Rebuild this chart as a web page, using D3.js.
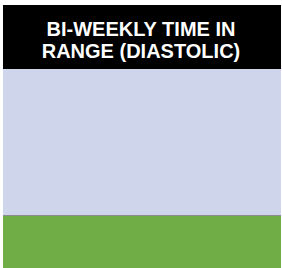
<!DOCTYPE html>
<html>
<head>
<meta charset="utf-8">
<script src="https://cdn.jsdelivr.net/npm/d3@7"></script>
<style>
  html, body { margin: 0; padding: 0; background: #fff; }
  svg { display: block; }
</style>
</head>
<body>
<div id="chart"></div>
<script>
// Chart values
const titleLines = ['BI-WEEKLY TIME IN', 'RANGE (DIASTOLIC)'];
const categories = ['Diastolic'];
const seriesNames = ['In Range', 'Out of Range'];
const inRange = [26.6];
const outOfRange = [73.4];
const seriesColors = ['#70ad47', '#cfd5ea'];

const width = 282, height = 268;
const margin = { left: 3, right: 1, header: 64, top: 5 };

const svg = d3.select('#chart')
    .append('svg')
    .attr('width', width)
    .attr('height', height);

// Header block
svg.append('rect')
    .attr('x', margin.left)
    .attr('y', margin.top)
    .attr('width', width - margin.left - margin.right)
    .attr('height', margin.header)
    .attr('fill', '#000');

svg.append('g')
    .selectAll('text')
    .data(titleLines)
    .enter()
    .append('text')
    .attr('x', 141)
    .attr('y', (d, i) => 36 + i * 22)
    .attr('text-anchor', 'middle')
    .attr('fill', '#fff')
    .style('font-family', '"Liberation Sans", Arial, sans-serif')
    .style('font-weight', 'bold')
    .style('font-size', '20px')
    .text(d => d);

// Stacked bar
const plotTop = margin.top + margin.header;
const x = d3.scaleBand()
    .domain(categories)
    .range([margin.left, width - margin.right])
    .padding(0);

const y = d3.scaleLinear()
    .domain([0, 100])
    .range([height, plotTop]);

const rows = categories.map((c, i) => ({ cat: c, 'In Range': inRange[i], 'Out of Range': outOfRange[i] }));
const stacked = d3.stack().keys(seriesNames)(rows);

svg.append('g')
    .selectAll('g')
    .data(stacked)
    .enter()
    .append('g')
    .attr('fill', (d, i) => seriesColors[i])
    .selectAll('rect')
    .data(d => d)
    .enter()
    .append('rect')
    .attr('x', d => x(d.data.cat))
    .attr('y', d => y(d[1]))
    .attr('width', x.bandwidth())
    .attr('height', d => y(d[0]) - y(d[1]));

// Boundary line between segments
svg.append('line')
    .attr('x1', margin.left)
    .attr('x2', width - margin.right)
    .attr('y1', Math.round(y(inRange[0])) + 0.5)
    .attr('y2', Math.round(y(inRange[0])) + 0.5)
    .attr('stroke', '#8c8c8c')
    .attr('stroke-width', 1);
</script>
</body>
</html>
